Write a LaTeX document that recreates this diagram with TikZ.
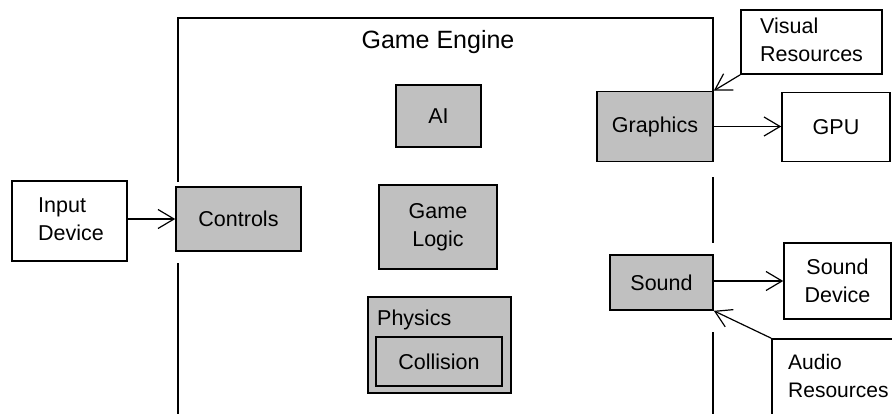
\documentclass[tikz,border=0pt]{standalone}
\usepackage{fontspec}
\setmainfont{Liberation Sans}
\usetikzlibrary{arrows.meta}
\definecolor{boxgray}{RGB}{192,192,192}
\begin{document}
\begin{tikzpicture}[x=1pt,y=-1pt,
  txt/.style={font=\fontsize{21.5}{28.5}\selectfont},
  box/.style={draw, line width=1.6pt, inner sep=0pt, txt, align=center},
  part/.style={box, fill=boxgray},
  ext/.style={box, fill=white},
  lbl/.style={inner sep=0pt, anchor=west, align=left, txt},
  frame/.style={line width=1.6pt},
  flow/.style={line width=1.2pt, -{Straight Barb[length=16pt,width=19pt]}}]

\useasboundingbox (0,0) rectangle (892,413);
\clip (0,0) rectangle (892,413);

% engine frame, open at the bottom, broken around the edge modules
\draw[frame] (178,182) -- (178,18) -- (713,18) -- (713,92);
\draw[frame] (178,263) -- (178,430);
\draw[frame] (713,177) -- (713,243);
\draw[frame] (713,332) -- (713,430);
\node[font=\fontsize{25}{30}\selectfont, inner sep=0pt] (title) at (438,42) {Game Engine};

% engine modules
\node[part, minimum width=125pt, minimum height=64pt] (ctl) at (238.5,219) {Controls};
\node[part, minimum width=85pt, minimum height=62pt] (ai) at (438.5,116) {AI};
\node[part, minimum width=118pt, minimum height=84pt] (logic) at (438,227) {Game\\Logic};
\node[part, line width=2pt, minimum width=143pt, minimum height=96pt] (phys) at (439.5,345) {};
\node[lbl] (physlbl) at (377,320) {Physics};
\node[part, minimum width=126pt, minimum height=49pt] (coll) at (439,361.5) {Collision};
\node[part, minimum width=116pt, minimum height=70pt] (gfx) at (655,126.5) {Graphics};
\node[part, minimum width=103pt, minimum height=55pt] (snd) at (661.5,282.5) {Sound};

% external devices and resources
\node[ext, minimum width=115pt, minimum height=80pt] (inp) at (69.5,221) {};
\node[lbl] (inplbl) at (38,219) {Input\\Device};
\node[ext, minimum width=141pt, minimum height=64pt] (vis) at (811.5,42) {};
\node[lbl] (vislbl) at (760,40) {Visual\\Resources};
\node[ext, minimum width=108pt, minimum height=69pt] (gpu) at (836,127) {GPU};
\node[ext, minimum width=107pt, minimum height=76pt] (sdev) at (837.5,281) {Sound\\Device};
\node[ext, minimum width=140pt, minimum height=100pt] (aud) at (842,389) {};
\node[lbl, font=\fontsize{21}{28.5}\selectfont] (audlbl) at (788,376) {Audio\\Resources};

% data flow
\draw[flow] (inp.east |- ctl) -- (ctl.west);
\draw[flow] (gfx.east) -- (gfx.east -| gpu.west);
\draw[flow] (sdev.west -| snd.east) -- (sdev.west);
\draw[flow] (vis.south west) -- (gfx.north east);
\draw[flow] (aud.north west) -- (snd.south east);
\end{tikzpicture}
\end{document}
